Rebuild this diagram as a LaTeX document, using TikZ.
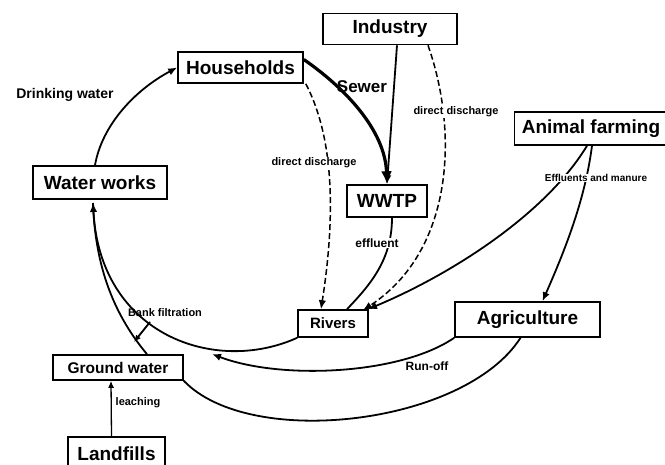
\documentclass[tikz,border=0pt]{standalone}
\usepackage{fontspec}
\setmainfont{Liberation Sans}
\usetikzlibrary{arrows.meta}
\begin{document}
\begin{tikzpicture}[x=1pt,y=-1pt,
  box/.style={draw,line width=1.6pt,inner sep=0pt,font=\fontsize{19}{21}\selectfont\bfseries},
  lbl/.style={inner sep=0.5pt,font=\fontsize{11}{12}\selectfont\bfseries},
  con/.style={line width=1.8pt},
  arr/.style={con,-{Latex[length=9pt,width=7.5pt]}},
  dsh/.style={arr,line width=1.5pt,dash pattern=on 6pt off 3pt}]
\useasboundingbox (0,0) rectangle (665,465);
\begin{scope}
\clip (0,0) rectangle (665,465);
% nodes
\node[box,minimum width=125,minimum height=31] (hh) at (240.5,67.5) {Households};
\node[box,minimum width=134,minimum height=31] (ind) at (390,29) {Industry};
\node[box,minimum width=153,minimum height=33] (af) at (591,128.5) {Animal farming};
\node[box,minimum width=134,minimum height=33] (ww) at (100,182.5) {Water works};
\node[box,minimum width=80,minimum height=32] (wwtp) at (387,201) {WWTP};
\node[box,minimum width=70,minimum height=27,font=\fontsize{15}{17}\selectfont\bfseries] (riv) at (333,323.5) {Rivers};
\node[box,minimum width=145,minimum height=35] (agri) at (527.5,319.5) {Agriculture};
\node[box,minimum width=130,minimum height=25,font=\fontsize{15.5}{17}\selectfont\bfseries] (gw) at (118,367.5) {Ground water};
\node[box,minimum width=97,minimum height=34] (lf) at (116.5,454) {Landfills};
\end{scope}
% coordinates
\coordinate (wwin) at (93,203);
\coordinate (bfa) at (150,322);
\coordinate (bfb) at (134,342);
\coordinate (ro) at (212,354);
% drinking water
\draw[arr] ([xshift=-5pt]ww.north) .. controls (102,125) and (135,90) .. (hh.west);
\node[lbl,font=\fontsize{14}{16}\selectfont\bfseries] (ldw) at (65,95) {Drinking water};
% sewer
\draw[con,line width=3.2pt,-{Latex[length=13pt,width=11pt]}] ([yshift=8pt]hh.east) .. controls (345,88) and (385,130) .. (wwtp.north);
\node[lbl,font=\fontsize{17}{19}\selectfont\bfseries] (lsw) at (362,87) {Sewer};
% industry -> wwtp
\draw[arr] ([xshift=7pt]ind.south) -- (wwtp.north);
% direct discharge households -> rivers
\draw[dsh] ([xshift=2pt]hh.south east) .. controls (330,130) and (338,200) .. ([xshift=-12pt]riv.north);
\node[lbl,fill=white] (ldd1) at (314,163) {direct discharge};
% direct discharge industry -> rivers
\draw[dsh] ([xshift=38pt]ind.south) .. controls (458,130) and (455,250) .. ([xshift=30pt,yshift=-1pt]riv.north);
\node[lbl,fill=white] (ldd2) at (456,112) {direct discharge};
% effluent
\draw[con] ([xshift=5pt]wwtp.south) .. controls (392,260) and (370,285) .. ([xshift=14pt]riv.north);
\node[lbl,fill=white,font=\fontsize{12}{14}\selectfont\bfseries] (lef) at (377,243) {effluent};
% animal farming
\draw[arr] ([xshift=-4pt]af.south) .. controls (545,215) and (450,275) .. ([xshift=35pt]riv.north);
\draw[arr] ([xshift=1pt]af.south) .. controls (585,200) and (565,250) .. ([xshift=15pt]agri.north);
\node[lbl,fill=white,font=\fontsize{10}{12}\selectfont\bfseries] (lem) at (596,178) {Effluents and manure};
% bank filtration
\draw[arr] (riv.south west) .. controls (215,375) and (100,335) .. (wwin);
\draw[con] ([xshift=29pt]gw.north) .. controls (110,310) and (95,260) .. (wwin);
\draw[con,-{Latex[length=7pt,width=6pt]}] (bfa) -- (bfb);
\node[lbl] (lbf) at (165,313) {Bank filtration};
% run-off
\draw[arr] (agri.south west) .. controls (400,375) and (280,380) .. (ro);
\node[lbl,font=\fontsize{12}{14}\selectfont\bfseries] (lro) at (427,366) {Run-off};
% agriculture -> ground water
\draw[con] ([xshift=-7pt]agri.south) .. controls (465,425) and (250,450) .. (gw.south east);
% leaching
\draw[con,line width=1.3pt,-{Latex[length=7pt,width=6pt]}] ([xshift=-5pt]lf.north) -- ([xshift=-7pt]gw.south);
\node[lbl,anchor=west] (lle) at (115,403) {leaching};
\end{tikzpicture}
\end{document}
